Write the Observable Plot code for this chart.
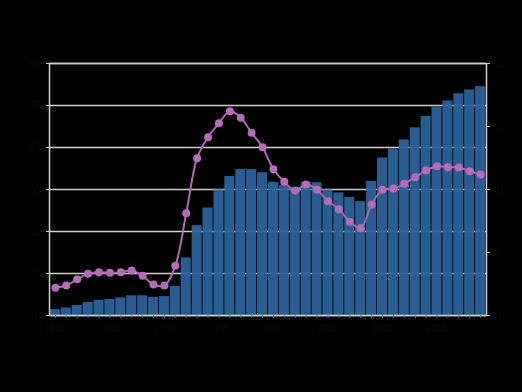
<!DOCTYPE html>
<html>
<head>
<meta charset="utf-8">
<script src="https://cdn.jsdelivr.net/npm/d3@7"></script>
<script src="https://cdn.jsdelivr.net/npm/@observablehq/plot@0.6"></script>
<style>
  html, body { margin: 0; padding: 0; background: #000; }
  #chart { width: 522px; height: 392px; }
</style>
</head>
<body>
<div id="chart"></div>
<script>
const years = d3.range(1980, 2020).map(String);
const barValues = [1.4, 1.8, 2.4, 3.1, 3.6, 3.8, 4.2, 4.7, 4.7, 4.3,
  4.5, 6.9, 13.7, 21.4, 25.6, 29.9, 33.1, 34.8, 34.8, 34.0,
  31.7, 30.9, 30.4, 31.7, 31.6, 29.9, 29.2, 28.1, 27.1, 31.9,
  37.5, 39.6, 41.8, 44.7, 47.4, 49.6, 51.1, 52.8, 53.7, 54.5];
const lineValues = [2.2, 2.38, 2.88, 3.31, 3.44, 3.39, 3.44, 3.57, 3.15, 2.46,
  2.38, 3.94, 8.12, 12.49, 14.15, 15.26, 16.22, 15.69, 14.5, 13.36,
  11.61, 10.61, 9.92, 10.4, 9.98, 9.07, 8.44, 7.44, 6.93, 8.81,
  9.98, 10.08, 10.45, 10.98, 11.51, 11.85, 11.77, 11.75, 11.45, 11.19];
const leftTicks = [0, 10, 20, 30, 40, 50, 60];
const rightTicks = [0, 5, 10, 15, 20];
const ratio = 60 / 20;

const data = years.map((y, i) => ({year: y, bar: barValues[i], line: lineValues[i]}));

const chart = Plot.plot({
  width: 522,
  height: 392,
  marginLeft: 49,
  marginRight: 36,
  marginTop: 63,
  marginBottom: 77,
  style: {background: "#000", color: "#070707", fontFamily: "Liberation Sans, Arial, sans-serif", fontSize: "10px"},
  x: {type: "band", domain: years, padding: 0.08, label: null},
  y: {domain: [0, 60], label: null},
  marks: [
    Plot.ruleY(leftTicks, {stroke: "#d0d0d0", strokeWidth: 1.5}),
    Plot.barY(data, {x: "year", y: "bar", fill: "#2c639a", fillOpacity: 0.94}),
    Plot.frame({stroke: "#d0d0d0", strokeWidth: 1.5}),
    Plot.axisY({anchor: "left", ticks: leftTicks, tickSize: 3, stroke: "#d0d0d0", fill: "#070707", label: null}),
    Plot.axisY({anchor: "right", ticks: rightTicks.map(d => d * ratio), tickFormat: d => d / ratio, tickSize: 3, stroke: "#d0d0d0", fill: "#070707", label: null}),
    Plot.axisX({ticks: years, tickSize: 3, stroke: "#707070", fill: "#070707", tickFormat: d => (+d % 5 === 0 ? d : ""), label: null}),
    Plot.line(data, {x: "year", y: d => d.line * ratio, stroke: "#b066b3", strokeWidth: 2, curve: "catmull-rom"}),
    Plot.dot(data, {x: "year", y: d => d.line * ratio, r: 4, fill: "#b46cb8"})
  ]
});
document.getElementById("chart").appendChild(chart);
</script>
</body>
</html>
